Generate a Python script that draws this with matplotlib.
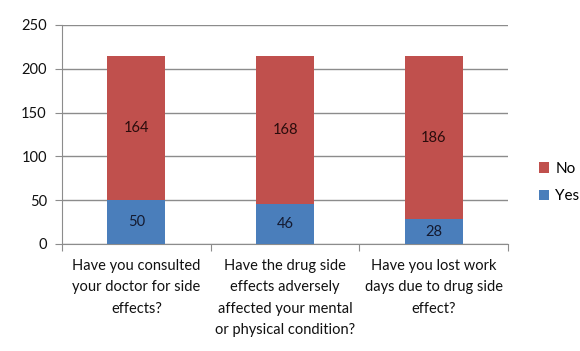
import matplotlib.pyplot as plt
import numpy as np

plt.rcParams['font.family'] = ['Lato', 'DejaVu Sans']

questions = [
    "Have you consulted\nyour doctor for side\neffects?",
    "Have the drug side\neffects adversely\naffected your mental\nor physical condition?",
    "Have you lost work\ndays due to drug side\neffect?",
]
yes_counts = [50, 46, 28]
no_counts = [164, 168, 186]

blue = '#4A7EBB'
red = '#C0504D'
grid_col = '#8C8C8C'

fig = plt.figure(figsize=(5.8, 3.51), dpi=100)
ax = fig.add_axes([0.107, 0.305, 0.769, 0.624])

x = np.arange(len(questions))
w = 0.39
b_yes = ax.bar(x, yes_counts, w, color=blue, label='Yes', zorder=3)
b_no = ax.bar(x, no_counts, w, bottom=yes_counts, color=red, label='No', zorder=3)

for i in range(len(x)):
    ax.text(x[i], yes_counts[i] / 2, str(yes_counts[i]), ha='center', va='center',
            fontsize=10.5, color='#141a30', zorder=4)
    ax.text(x[i], yes_counts[i] + no_counts[i] / 2, str(no_counts[i]), ha='center',
            va='center', fontsize=10.5, color='#2a0c0c', zorder=4)

ax.set_xlim(-0.5, 2.5)
ax.set_ylim(0, 250)
ax.set_yticks(range(0, 251, 50))
ax.yaxis.grid(True, color=grid_col, lw=1, zorder=0)

# category labels sit between boundary tick marks
ax.set_xticks([-0.5, 0.5, 1.5, 2.5])
ax.set_xticklabels([])
ax.set_xticks(x, minor=True)
ax.set_xticklabels(questions, minor=True, fontsize=10.5, color='#111111',
                   linespacing=1.65, va='top')
ax.tick_params(axis='x', which='minor', length=0, pad=11)
ax.tick_params(axis='x', which='major', length=5, direction='out', color=grid_col)
ax.tick_params(axis='y', length=5, direction='out', color=grid_col,
               labelsize=10.5, labelcolor='#111111', pad=6)

for s in ['top', 'right']:
    ax.spines[s].set_visible(False)
ax.spines['left'].set_color(grid_col)
ax.spines['bottom'].set_color(grid_col)

handles = [b_no, b_yes]
fig.legend(handles, ['No', 'Yes'], loc='center left', bbox_to_anchor=(0.905, 0.48),
           frameon=False, fontsize=11, handlelength=0.7, handleheight=0.7,
           handletextpad=0.4, labelspacing=0.9)

fig.savefig('out.png', dpi=100)
